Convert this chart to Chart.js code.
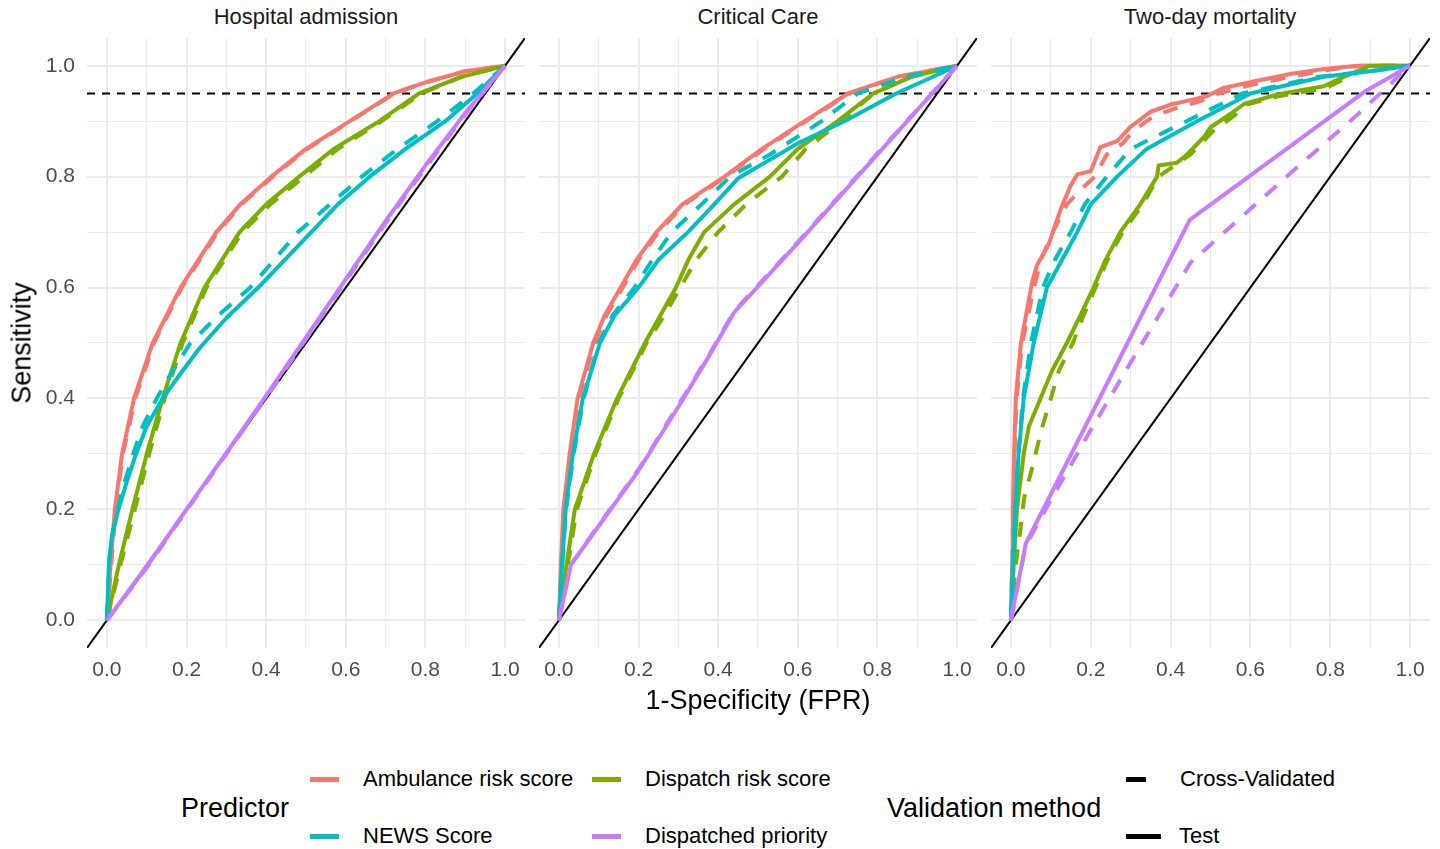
<!DOCTYPE html>
<html>
<head>
<meta charset="utf-8">
<script src="https://cdn.jsdelivr.net/npm/chart.js@4.4.1/dist/chart.umd.min.js"></script>
<style>
  body { margin: 0; background: #fff; font-family: "Liberation Sans", Arial, sans-serif; }
  #page { position: relative; width: 1440px; height: 849px; overflow: hidden; background: #fff; }
  canvas { position: absolute; }
  .txt { position: absolute; white-space: nowrap; line-height: normal; }
  .c { transform: translate(-50%, -50%); }
  .l { transform: translate(0, -50%); }
  .strip { font-size: 22px; color: #1A1A1A; top: 17px; }
  .title { font-size: 27px; color: #000; }
  .lab { font-size: 22px; color: #000; }
  .key { position: absolute; height: 5px; }
</style>
</head>
<body>
<div id="page">
  <canvas id="panel0" width="525" height="650" style="left:0px;top:38px"></canvas>
  <canvas id="panel1" width="438" height="650" style="left:539px;top:38px"></canvas>
  <canvas id="panel2" width="439" height="650" style="left:991px;top:38px"></canvas>

  <div class="txt c strip" style="left:306px">Hospital admission</div>
  <div class="txt c strip" style="left:758px">Critical Care</div>
  <div class="txt c strip" style="left:1210px">Two-day mortality</div>

  <div class="txt title" style="left:22px;top:343px;transform:translate(-50%,-50%) rotate(-90deg)">Sensitivity</div>
  <div class="txt c title" style="left:758px;top:700px">1-Specificity (FPR)</div>

  <div id="legend"></div>
</div>

<script>
// facets, groups and axis ticks
const panels = ['Hospital admission', 'Critical Care', 'Two-day mortality'];
const predictors = ['Ambulance risk score', 'Dispatch risk score', 'NEWS Score', 'Dispatched priority'];
const predictorColors = ['#F8766D', '#7CAE00', '#00BFC4', '#C77CFF'];
const methods = ['Cross-Validated', 'Test'];
const gridTicks = [0, 0.1, 0.2, 0.3, 0.4, 0.5, 0.6, 0.7, 0.8, 0.9, 1.0];
const axisRange = [-0.05, 1.05];
const targetSensitivity = 0.95;

// ROC curves, [FPR, sensitivity]
// Hospital admission
const admAmbCV = [[0,0],[0.011,0.1],[0.022,0.2],[0.04,0.3],[0.071,0.4],[0.118,0.5],[0.188,0.6],[0.278,0.7],[0.338,0.75],[0.416,0.8],[0.503,0.85],[0.612,0.9],[0.722,0.95],[0.8,0.97],[0.9,0.99],[1,1]];
const admAmbTest = [[0,0],[0.009,0.1],[0.02,0.2],[0.038,0.3],[0.068,0.4],[0.115,0.5],[0.185,0.6],[0.275,0.7],[0.335,0.75],[0.413,0.8],[0.5,0.85],[0.61,0.9],[0.72,0.95],[0.8,0.97],[0.9,0.99],[1,1]];
const admDispCV = [[0,0],[0.034,0.1],[0.07,0.2],[0.106,0.3],[0.145,0.4],[0.19,0.5],[0.25,0.6],[0.34,0.7],[0.41,0.75],[0.495,0.8],[0.58,0.85],[0.69,0.9],[0.79,0.95],[0.89,0.98],[1,1]];
const admDispTest = [[0,0],[0.03,0.1],[0.064,0.2],[0.1,0.3],[0.14,0.4],[0.185,0.5],[0.245,0.6],[0.333,0.7],[0.4,0.75],[0.483,0.8],[0.57,0.85],[0.684,0.9],[0.784,0.95],[0.89,0.98],[1,1]];
const admNewsCV = [[0,0],[0.005,0.1],[0.012,0.15],[0.027,0.2],[0.045,0.25],[0.066,0.3],[0.09,0.35],[0.125,0.4],[0.165,0.45],[0.21,0.5],[0.28,0.55],[0.36,0.6],[0.48,0.7],[0.56,0.75],[0.64,0.8],[0.73,0.85],[0.83,0.9],[0.92,0.95],[1,1]];
const admNewsTest = [[0,0],[0.005,0.1],[0.012,0.15],[0.029,0.2],[0.05,0.25],[0.073,0.3],[0.1,0.35],[0.14,0.4],[0.18,0.44],[0.232,0.49],[0.3,0.545],[0.38,0.6],[0.5,0.69],[0.58,0.75],[0.66,0.8],[0.75,0.85],[0.85,0.9],[0.93,0.95],[1,1]];
const admPrioCV = [[0,0],[0.1,0.095],[0.2,0.198],[0.3,0.3],[0.4,0.402],[0.5,0.507],[0.6,0.612],[0.7,0.716],[0.8,0.816],[0.9,0.912],[1,1]];
const admPrioTest = [[0,0],[0.1,0.097],[0.2,0.2],[0.3,0.302],[0.4,0.405],[0.5,0.51],[0.6,0.615],[0.7,0.72],[0.8,0.82],[0.9,0.915],[1,1]];

// Critical Care
const ccAmbCV = [[0,0],[0.006,0.1],[0.013,0.2],[0.03,0.3],[0.05,0.4],[0.09,0.5],[0.12,0.55],[0.16,0.6],[0.2,0.65],[0.25,0.7],[0.315,0.75],[0.42,0.8],[0.515,0.85],[0.62,0.9],[0.73,0.95],[0.85,0.98],[1,1]];
const ccAmbTest = [[0,0],[0.005,0.1],[0.011,0.2],[0.027,0.3],[0.047,0.4],[0.086,0.5],[0.115,0.55],[0.155,0.6],[0.195,0.65],[0.245,0.7],[0.31,0.75],[0.416,0.8],[0.51,0.85],[0.617,0.9],[0.726,0.95],[0.85,0.98],[1,1]];
const ccDispCV = [[0,0],[0.022,0.1],[0.045,0.2],[0.092,0.3],[0.15,0.4],[0.22,0.5],[0.265,0.55],[0.305,0.6],[0.345,0.65],[0.4,0.7],[0.47,0.75],[0.56,0.8],[0.62,0.85],[0.71,0.9],[0.79,0.95],[0.885,0.98],[1,1]];
const ccDispTest = [[0,0],[0.019,0.1],[0.04,0.2],[0.088,0.3],[0.146,0.4],[0.216,0.5],[0.255,0.55],[0.294,0.6],[0.325,0.65],[0.365,0.7],[0.44,0.75],[0.53,0.8],[0.6,0.85],[0.7,0.9],[0.79,0.95],[0.885,0.98],[1,1]];
const ccNewsCV = [[0,0],[0.008,0.1],[0.018,0.2],[0.037,0.3],[0.062,0.4],[0.1,0.5],[0.135,0.55],[0.19,0.6],[0.235,0.65],[0.283,0.7],[0.358,0.75],[0.43,0.8],[0.53,0.84],[0.66,0.9],[0.75,0.95],[0.87,0.98],[1,1]];
const ccNewsTest = [[0,0],[0.008,0.1],[0.017,0.2],[0.035,0.3],[0.06,0.4],[0.103,0.5],[0.14,0.55],[0.2,0.6],[0.25,0.65],[0.324,0.7],[0.39,0.75],[0.45,0.797],[0.6,0.86],[0.717,0.9],[0.847,0.95],[1,1]];
const ccPrioCV = [[0,0],[0.03,0.1],[0.1,0.172],[0.2,0.272],[0.3,0.388],[0.38,0.482],[0.44,0.557],[0.6,0.682],[0.8,0.842],[1,1]];
const ccPrioTest = [[0,0],[0.03,0.1],[0.1,0.17],[0.2,0.27],[0.3,0.385],[0.38,0.48],[0.44,0.555],[0.6,0.68],[0.8,0.84],[1,1]];

// Two-day mortality
const mortAmbCV = [[0,0],[0.003,0.1],[0.006,0.2],[0.009,0.3],[0.014,0.4],[0.028,0.5],[0.058,0.6],[0.075,0.65],[0.105,0.7],[0.14,0.75],[0.18,0.78],[0.21,0.8],[0.24,0.84],[0.28,0.86],[0.31,0.885],[0.36,0.91],[0.42,0.925],[0.47,0.935],[0.52,0.95],[0.6,0.965],[0.7,0.98],[0.8,0.993],[0.88,1],[1,1]];
const mortAmbTest = [[0,0],[0.003,0.1],[0.005,0.2],[0.008,0.3],[0.012,0.4],[0.025,0.5],[0.053,0.61],[0.065,0.64],[0.094,0.677],[0.124,0.74],[0.149,0.783],[0.166,0.804],[0.2,0.81],[0.224,0.853],[0.266,0.864],[0.3,0.89],[0.35,0.917],[0.4,0.93],[0.45,0.938],[0.49,0.945],[0.533,0.96],[0.617,0.973],[0.7,0.985],[0.784,0.994],[0.868,1],[1,1]];
const mortDispCV = [[0,0],[0.012,0.1],[0.023,0.16],[0.033,0.22],[0.055,0.28],[0.075,0.34],[0.1,0.4],[0.12,0.45],[0.155,0.5],[0.182,0.55],[0.212,0.6],[0.242,0.65],[0.28,0.7],[0.33,0.75],[0.37,0.8],[0.42,0.825],[0.45,0.84],[0.49,0.87],[0.51,0.885],[0.56,0.91],[0.59,0.93],[0.67,0.945],[0.79,0.96],[0.84,0.978],[0.9,1],[1,1]];
const mortDispTest = [[0,0],[0.007,0.1],[0.015,0.2],[0.032,0.3],[0.045,0.35],[0.074,0.4],[0.103,0.45],[0.14,0.5],[0.174,0.55],[0.207,0.6],[0.237,0.65],[0.274,0.7],[0.324,0.75],[0.366,0.8],[0.37,0.82],[0.416,0.825],[0.44,0.839],[0.483,0.871],[0.5,0.889],[0.55,0.913],[0.584,0.931],[0.667,0.948],[0.784,0.963],[0.834,0.98],[0.9,1],[1,1]];
const mortNewsCV = [[0,0],[0.005,0.1],[0.011,0.2],[0.019,0.3],[0.03,0.4],[0.05,0.5],[0.08,0.6],[0.11,0.65],[0.15,0.7],[0.185,0.75],[0.24,0.8],[0.3,0.85],[0.44,0.9],[0.58,0.95],[0.77,0.98],[0.9,0.99],[1,1]];
const mortNewsTest = [[0,0],[0.005,0.1],[0.011,0.2],[0.019,0.3],[0.032,0.4],[0.057,0.5],[0.09,0.6],[0.128,0.65],[0.166,0.7],[0.2,0.75],[0.266,0.8],[0.34,0.85],[0.466,0.9],[0.6,0.95],[0.784,0.98],[0.9,0.99],[1,1]];
const mortPrioCV = [[0,0],[0.037,0.135],[0.1,0.217],[0.2,0.343],[0.3,0.465],[0.45,0.645],[0.7,0.806],[0.87,0.913],[1,1]];
const mortPrioTest = [[0,0],[0.037,0.138],[0.25,0.44],[0.448,0.722],[0.89,0.955],[1,1]];

const curves = [
  [[admAmbCV, admAmbTest], [admDispCV, admDispTest], [admNewsCV, admNewsTest], [admPrioCV, admPrioTest]],
  [[ccAmbCV, ccAmbTest], [ccDispCV, ccDispTest], [ccNewsCV, ccNewsTest], [ccPrioCV, ccPrioTest]],
  [[mortAmbCV, mortAmbTest], [mortDispCV, mortDispTest], [mortNewsCV, mortNewsTest], [mortPrioCV, mortPrioTest]]
];

const gridColor = '#EBEBEB';
const tickFont = { family: '"Liberation Sans", Arial, sans-serif', size: 21 };

function toPoints(arr) {
  return arr.map(function (p) { return { x: p[0], y: p[1] }; });
}

function buildDatasets(panelIndex) {
  const sets = [];
  let order = 50;
  predictors.forEach(function (name, pi) {
    methods.forEach(function (method, mi) {
      sets.push({
        label: name + ' - ' + method,
        data: toPoints(curves[panelIndex][pi][mi]),
        borderColor: predictorColors[pi],
        borderWidth: 4,
        borderDash: mi === 0 ? [15, 13] : [],
        borderJoinStyle: 'round',
        pointRadius: 0,
        tension: 0,
        fill: false,
        order: order--
      });
    });
  });
  // reference lines: chance diagonal and 0.95 sensitivity
  sets.push({
    label: 'chance',
    data: [{ x: axisRange[0], y: axisRange[0] }, { x: axisRange[1], y: axisRange[1] }],
    borderColor: '#000', borderWidth: 2, pointRadius: 0, tension: 0, order: 100
  });
  sets.push({
    label: 'target',
    data: [{ x: axisRange[0], y: targetSensitivity }, { x: axisRange[1], y: targetSensitivity }],
    borderColor: '#000', borderWidth: 2, borderDash: [8, 7], pointRadius: 0, tension: 0, order: 101
  });
  return sets;
}

function gridOptions() {
  return {
    color: gridColor,
    lineWidth: function (ctx) { return ctx.index % 2 === 0 ? 2 : 1.1; },
    drawTicks: false
  };
}

// keep the panel area fixed: no extra room for edge labels
function noPadding(s) {
  s.paddingTop = 0;
  s.paddingBottom = 0;
  s.paddingLeft = 0;
  s.paddingRight = 0;
}

panels.forEach(function (title, i) {
  const ctx = document.getElementById('panel' + i).getContext('2d');
  new Chart(ctx, {
    type: 'line',
    data: { datasets: buildDatasets(i) },
    options: {
      responsive: false,
      maintainAspectRatio: false,
      animation: false,
      devicePixelRatio: 1,
      layout: { padding: 0 },
      plugins: { legend: { display: false }, tooltip: { enabled: false } },
      scales: {
        x: {
          type: 'linear',
          min: axisRange[0],
          max: axisRange[1],
          afterBuildTicks: function (s) { s.ticks = gridTicks.map(function (v) { return { value: v }; }); },
          afterFit: function (s) { s.height = 40; noPadding(s); },
          grid: gridOptions(),
          border: { display: false },
          ticks: {
            autoSkip: false, maxRotation: 0, padding: 10,
            color: '#4D4D4D', font: tickFont,
            callback: function (v, idx) { return idx % 2 === 0 ? v.toFixed(1) : ''; }
          }
        },
        y: {
          type: 'linear',
          min: axisRange[0],
          max: axisRange[1],
          afterBuildTicks: function (s) { s.ticks = gridTicks.map(function (v) { return { value: v }; }); },
          afterFit: function (s) { s.width = i === 0 ? 87 : 0; noPadding(s); },
          grid: gridOptions(),
          border: { display: false },
          ticks: {
            display: i === 0,
            autoSkip: false, padding: 12,
            color: '#4D4D4D', font: tickFont,
            callback: function (v, idx) { return idx % 2 === 0 ? v.toFixed(1) : ''; }
          }
        }
      }
    }
  });
});

// legend (two guides, like ggplot)
const legend = document.getElementById('legend');
function addText(cls, text, left, top) {
  const d = document.createElement('div');
  d.className = 'txt ' + cls;
  d.style.left = left + 'px';
  d.style.top = top + 'px';
  d.textContent = text;
  legend.appendChild(d);
}
function addKey(left, top, width, color) {
  const k = document.createElement('div');
  k.className = 'key';
  k.style.left = left + 'px';
  k.style.top = (top - 2.5) + 'px';
  k.style.width = width + 'px';
  k.style.background = color;
  legend.appendChild(k);
}
const rowY = [779, 836];
const colX = [310, 592];
addText('l title', 'Predictor', 181, 808);
predictors.forEach(function (name, i) {
  const row = Math.floor(i / 2), col = i % 2;
  addKey(colX[col], rowY[row], 29, predictorColors[i]);
  addText('l lab', name, colX[col] + 53, rowY[row]);
});
addText('l title', 'Validation method', 887, 808);
addKey(1126, rowY[0], 20, '#000');
addText('l lab', methods[0], 1180, rowY[0]);
addKey(1126, rowY[1], 35, '#000');
addText('l lab', methods[1], 1179, rowY[1]);
</script>
</body>
</html>
